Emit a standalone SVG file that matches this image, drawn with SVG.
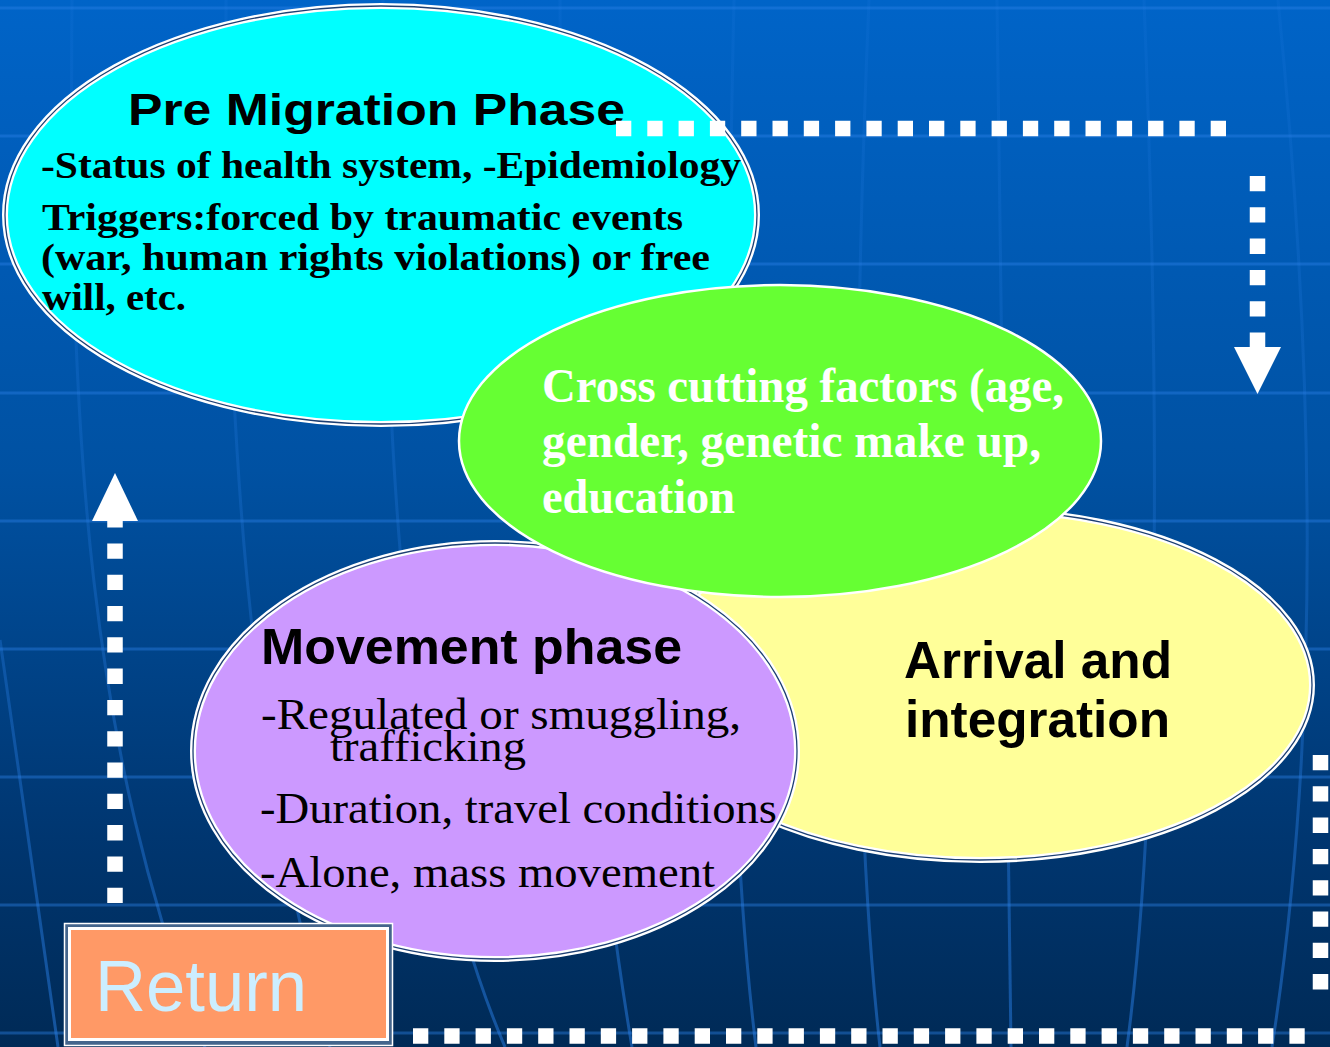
<svg xmlns="http://www.w3.org/2000/svg" width="1330" height="1047" viewBox="0 0 1330 1047">
<defs>
<linearGradient id="bg" x1="0" y1="0" x2="0" y2="1">
<stop offset="0" stop-color="#0064c8"/>
<stop offset="0.45" stop-color="#0051a2"/>
<stop offset="0.8" stop-color="#003670"/>
<stop offset="1" stop-color="#002a56"/>
</linearGradient>
<linearGradient id="mer" gradientUnits="userSpaceOnUse" x1="0" y1="0" x2="0" y2="1047">
<stop offset="0" stop-color="#2a80e8" stop-opacity="0.12"/>
<stop offset="0.5" stop-color="#2a80e8" stop-opacity="0.25"/>
<stop offset="1" stop-color="#2a80e8" stop-opacity="0.5"/>
</linearGradient>
<style>
.grid{fill:none;stroke:#2a80e8;stroke-opacity:.42;stroke-width:3}
.mer{fill:none;stroke:url(#mer);stroke-width:3}
.dash{fill:none;stroke:#fff;stroke-width:15.5;stroke-dasharray:15.3 16}
.arrow{fill:#fff}
.dblw{stroke:#fff;stroke-width:6}
.dbld{fill:none;stroke:#1c3f73;stroke-width:1.3}
.hs{font-family:"Liberation Sans",Arial,sans-serif;font-weight:bold;fill:#000}
.sf{font-family:"Liberation Serif","Times New Roman",serif}
</style>
</defs>

<g id="background">
<rect x="0" y="0" width="1330" height="1047" fill="url(#bg)"/>
<path class="grid" d="M0 8H1330M0 136H1330M0 264H1330M0 393H1330M0 521H1330M0 649H1330M0 777H1330M0 905H1330M0 1033H1330"/>
<g class="mer">
<path d="M0 640C20 780 30 850 58 1047"/>
<path d="M72 0C68 450 90 750 205 1047"/>
<path d="M226 0C224 450 250 750 330 1047"/>
<path d="M383 0C383 450 400 800 505 1047"/>
<path d="M560 0C560 400 590 800 632 1047"/>
<path d="M734 0C725 400 725 800 756 1047"/>
<path d="M869 0C852 400 852 800 880 1047"/>
<path d="M997 0C1002 400 1006 800 1011 1047"/>
<path d="M1144 0C1160 400 1160 800 1127 1047"/>
<path d="M1278 0C1318 400 1318 750 1272 1047"/>
</g>
</g>

<g id="node-pre-migration">
<ellipse cx="381" cy="215" rx="376" ry="209" fill="#00ffff" class="dblw"/>
<ellipse cx="381" cy="215" rx="376" ry="209" class="dbld"/>
<text class="hs" x="128" y="125" font-size="44" textLength="497" lengthAdjust="spacingAndGlyphs">Pre Migration Phase</text>
<g class="sf" font-weight="bold" font-size="38" fill="#000">
<text x="41" y="178" textLength="700" lengthAdjust="spacingAndGlyphs">-Status of health system, -Epidemiology</text>
<text x="42" y="230" textLength="641" lengthAdjust="spacingAndGlyphs">Triggers:forced by traumatic events</text>
<text x="41" y="270" textLength="669" lengthAdjust="spacingAndGlyphs">(war, human rights violations) or free</text>
<text x="42" y="310" textLength="144" lengthAdjust="spacingAndGlyphs">will, etc.</text>
</g>
</g>

<g id="node-arrival">
<ellipse cx="980" cy="685" rx="332" ry="175" fill="#ffff99" class="dblw"/>
<ellipse cx="980" cy="685" rx="332" ry="175" class="dbld"/>
<text class="hs" x="904" y="678" font-size="52" textLength="268" lengthAdjust="spacingAndGlyphs">Arrival and</text>
<text class="hs" x="905" y="737" font-size="52" textLength="265" lengthAdjust="spacingAndGlyphs">integration</text>
</g>

<g id="node-movement">
<ellipse cx="495" cy="751" rx="302" ry="208" fill="#cc99ff" class="dblw"/>
<ellipse cx="495" cy="751" rx="302" ry="208" class="dbld"/>
<text class="hs" x="261" y="664" font-size="50" textLength="421" lengthAdjust="spacingAndGlyphs">Movement phase</text>
<g class="sf" font-size="45" fill="#000">
<text x="261" y="729" textLength="480" lengthAdjust="spacingAndGlyphs">-Regulated or smuggling,</text>
<text x="330" y="761" textLength="196" lengthAdjust="spacingAndGlyphs">trafficking</text>
<text x="260" y="823" textLength="517" lengthAdjust="spacingAndGlyphs">-Duration, travel conditions</text>
<text x="260" y="887" textLength="455" lengthAdjust="spacingAndGlyphs">-Alone, mass movement</text>
</g>
</g>

<g id="node-cross-cutting">
<ellipse cx="780" cy="441" rx="321" ry="156" fill="#66ff33" stroke="#fff" stroke-width="2.5"/>
<g class="sf" font-weight="bold" font-size="48" fill="#fff">
<text x="542" y="402" textLength="522" lengthAdjust="spacingAndGlyphs">Cross cutting factors (age,</text>
<text x="542" y="457" textLength="499" lengthAdjust="spacingAndGlyphs">gender, genetic make up,</text>
<text x="542" y="513" textLength="193" lengthAdjust="spacingAndGlyphs">education</text>
</g>
</g>

<g id="connectors">
<path class="dash" d="M616 128.5H1227"/>
<path class="dash" d="M1257.5 176V348"/>
<polygon class="arrow" points="1234,347 1281,347 1257.5,394"/>
<path class="dash" d="M1320.5 755V990"/>
<path class="dash" d="M413 1036H1305"/>
<path class="dash" d="M115 903V520"/>
<polygon class="arrow" points="92,521 138,521 115,473"/>
</g>

<g id="node-return">
<rect x="64.5" y="923.5" width="328" height="122" fill="#44658c" stroke="#fff" stroke-width="1.5"/>
<rect x="69.5" y="928.5" width="318" height="111" fill="#ff9966" stroke="#fff" stroke-width="3"/>
<text x="95" y="1011" font-family="'Liberation Sans',Arial,sans-serif" font-size="73" fill="#cceeff" textLength="212" lengthAdjust="spacingAndGlyphs">Return</text>
</g>
</svg>
